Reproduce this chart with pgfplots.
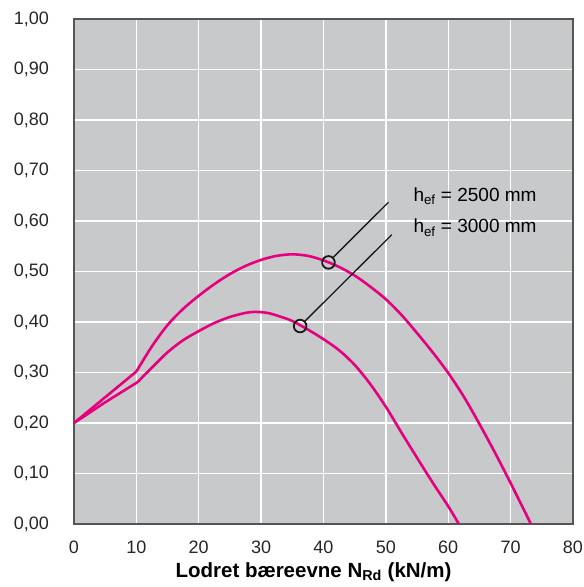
\documentclass[border=0pt]{standalone}
\usepackage{fontspec}
\setmainfont{Liberation Sans}
\usepackage{pgfplots}
\pgfplotsset{compat=1.18}
\definecolor{bggray}{HTML}{C8C9CB}
\definecolor{mag}{HTML}{E6007E}
\definecolor{axgray}{HTML}{555555}
\begin{document}
\begin{tikzpicture}
\begin{axis}[
  at={(0,0)}, anchor=south west,
  scale only axis, width=499pt, height=505pt,
  xmin=0, xmax=80, ymin=0, ymax=1,
  xtick={0,10,...,80},
  ytick={0,0.1,0.2,0.3,0.4,0.5,0.6,0.7,0.8,0.9,1.0},
  major tick length=0pt,
  grid=major,
  major grid style={white, line width=1.5pt},
  axis line style={axgray, line width=1.5pt},
  axis background/.style={fill=bggray},
  /pgf/number format/assume math mode=true,
  tick label style={font=\fontsize{18}{21}\selectfont, text=black!85},
  yticklabel style={inner sep=0pt, anchor=east, xshift=-25pt,
     /pgf/number format/.cd, fixed, fixed zerofill, precision=2, use comma},
  xticklabel style={inner sep=0pt, anchor=north, yshift=-17pt},
  xlabel={\textbf{Lodret bæreevne N\textsubscript{Rd} (kN/m)}},
  xlabel style={font=\fontsize{20.5}{23}\selectfont, at={(axis description cs:0.48,0)}, anchor=base, yshift=-53pt, inner sep=0pt},
  clip=false,
]
% h_ef = 2500 mm
\addplot[mag, line width=2.6pt, line join=round] coordinates {(0,0.200) (10,0.302)};
\addplot[mag, line width=2.6pt, line join=round, smooth, tension=0.5] coordinates {
(10,0.302) (12.5,0.352) (15,0.394) (17.5,0.426) (20,0.452) (22.5,0.475)
(25,0.495) (27.5,0.511) (30,0.523) (32.5,0.531) (35,0.534) (37.5,0.531) (40,0.522)
(42.5,0.509) (45,0.492) (47.5,0.470) (50,0.445) (52.5,0.414) (55,0.378) (57.5,0.340)
(60,0.299) (62.5,0.252) (65,0.198) (67.5,0.141) (70,0.081) (73.25,0.000)
};
% h_ef = 3000 mm
\addplot[mag, line width=2.6pt, line join=round] coordinates {(0,0.200) (5,0.241) (10.2,0.281)};
\addplot[mag, line width=2.6pt, line join=round, smooth, tension=0.5] coordinates {
(10.2,0.281) (12.5,0.310) (15,0.340) (17.5,0.364) (20,0.382)
(22.5,0.398) (25,0.410) (27.5,0.418) (29,0.420) (31,0.418) (33,0.411) (35,0.402)
(37.5,0.385) (40,0.366) (42.5,0.344) (45,0.315) (47.5,0.277) (50,0.232)
(52.5,0.181) (55,0.131) (57.5,0.082) (60,0.035) (61.7,0.000)
};
% leader lines
\addplot[black!90, line width=1.3pt] coordinates {(41.53,0.5276) (50.4,0.637)};
\addplot[black!90, line width=1.3pt] coordinates {(37.0,0.4014) (50.96,0.573)};
% circles
\addplot[only marks, mark=o, mark size=6.3pt, mark options={black!90, line width=1.8pt}] coordinates {(40.8,0.518) (36.25,0.392)};
\node[anchor=west, inner sep=0pt, font=\fontsize{19}{22}\selectfont] at (axis cs:54.4,0.649) {h\textsubscript{ef} = 2500 mm};
\node[anchor=west, inner sep=0pt, font=\fontsize{19}{22}\selectfont] at (axis cs:54.4,0.587) {h\textsubscript{ef} = 3000 mm};
\end{axis}
\pgfresetboundingbox
\path[use as bounding box] (-74pt,-63pt) rectangle (510pt,524pt);
\end{tikzpicture}
\end{document}
